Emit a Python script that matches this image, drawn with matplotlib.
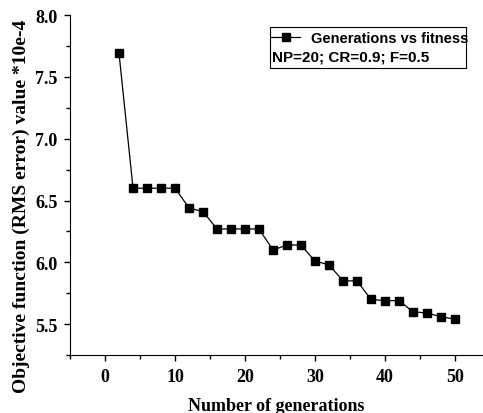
import matplotlib
matplotlib.use('Agg')
import matplotlib.pyplot as plt
from matplotlib.lines import Line2D
from matplotlib.patches import Rectangle
from matplotlib.ticker import MultipleLocator, FormatStrFormatter

# generations and best fitness (RMS error *10e-4)
generations = [2, 4, 6, 8, 10, 12, 14, 16, 18, 20, 22, 24, 26, 28, 30,
               32, 34, 36, 38, 40, 42, 44, 46, 48, 50]
fitness = [7.69, 6.60, 6.60, 6.60, 6.60, 6.44, 6.41, 6.27, 6.27, 6.27, 6.27,
           6.10, 6.14, 6.14, 6.01, 5.98, 5.85, 5.85, 5.70, 5.69, 5.69,
           5.60, 5.59, 5.56, 5.54]
series_label = 'Generations vs fitness'
params_label = 'NP=20; CR=0.9; F=0.5'

W, H = 483, 414
fig = plt.figure(figsize=(W / 100, H / 100), dpi=100)
ax = fig.add_axes([0.145, 0.14, 0.855, 0.821])

ax.plot(generations, fitness, color='black', linewidth=0.9, marker='s',
        markersize=6, markerfacecolor='black', markeredgecolor='black',
        label=series_label)

ax.set_xlim(-5, 54)
ax.set_ylim(5.25, 8.0)
ax.xaxis.set_major_locator(MultipleLocator(10))
ax.xaxis.set_minor_locator(MultipleLocator(5))
ax.yaxis.set_major_locator(MultipleLocator(0.5))
ax.yaxis.set_minor_locator(MultipleLocator(0.25))
ax.yaxis.set_major_formatter(FormatStrFormatter('%.1f'))
ax.xaxis.set_major_formatter(FormatStrFormatter('%d'))
ax.tick_params(which='both', direction='out', width=1, colors='black')
ax.tick_params(which='major', length=4, labelsize=13, pad=5)
ax.tick_params(which='minor', length=3)
for lab in ax.get_xticklabels() + ax.get_yticklabels():
    lab.set_fontfamily('Liberation Serif')
    lab.set_fontweight('bold')

ax.spines['top'].set_visible(False)
ax.spines['right'].set_visible(False)

ax.set_xlabel('Number of generations', fontfamily='Liberation Serif',
              fontweight='bold', fontsize=13, labelpad=9)
ax.set_ylabel('Objective function (RMS error) value *10e-4',
              fontfamily='Liberation Serif', fontweight='bold', fontsize=14)
# label sits a bit below the axes centre in the original
ax.yaxis.set_label_coords(-0.097, 0.441)

# legend box: one marker entry plus a parameter line starting at the box edge
def fx(px):
    return px / W

def fy(py):
    return 1 - py / H

fig.patches.append(Rectangle((fx(270), fy(69)), fx(466) - fx(270),
                             fy(28) - fy(69), transform=fig.transFigure,
                             fill=False, edgecolor='black', linewidth=0.8))
handle = Line2D([], [], color='black', linewidth=0.9, marker='s',
                markersize=6, markerfacecolor='black')
fig.legend([handle], [series_label], loc='center left',
           bbox_to_anchor=(fx(271), fy(39)), frameon=False,
           handlelength=2.0, handletextpad=0.75, borderpad=0, borderaxespad=0,
           prop={'family': 'Liberation Sans', 'weight': 'bold', 'size': 10.5})
fig.text(fx(272), fy(58), params_label, ha='left', va='center',
         fontfamily='Liberation Sans', fontweight='bold', fontsize=11)

fig.savefig('out.png', dpi=100)
